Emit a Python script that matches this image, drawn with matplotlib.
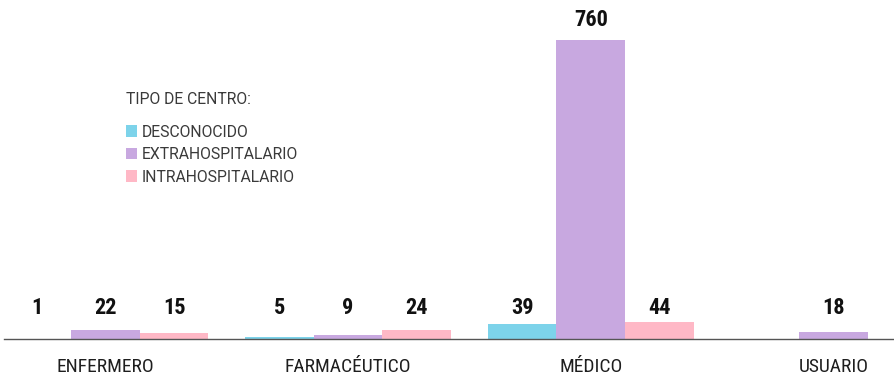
import matplotlib
matplotlib.use("Agg")
import matplotlib.pyplot as plt
from matplotlib.patches import Patch
import numpy as np

categories = ["ENFERMERO", "FARMACÉUTICO", "MÉDICO", "USUARIO"]
series_names = ["DESCONOCIDO", "EXTRAHOSPITALARIO", "INTRAHOSPITALARIO"]
desconocido = [1, 5, 39, None]
extrahospitalario = [22, 9, 760, 18]
intrahospitalario = [15, 24, 44, None]
colors = ["#7DD3EA", "#C8A8E0", "#FFB8C6"]

COND = ["Roboto Condensed", "DejaVu Sans"]

fig = plt.figure(figsize=(8.94, 3.77), dpi=100)
ax = fig.add_axes([0.004, 38 / 377, 0.996, 339 / 377])

x = np.arange(len(categories))
width = 0.283
all_series = [desconocido, extrahospitalario, intrahospitalario]
for k, (vals, color) in enumerate(zip(all_series, colors)):
    offset = (k - 1) * width
    for i, v in enumerate(vals):
        if v is None:
            continue
        ax.bar(x[i] + offset, v, width=width, color=color, linewidth=0)
        # short bars share one label row; tall bars get the label on top
        if v < 100:
            y, dy = 52, 0
        else:
            y, dy = v, 9
        ax.annotate(str(v), (x[i] + offset, y),
                    xytext=(0, dy), textcoords="offset pixels",
                    ha="center", va="bottom", fontsize=16,
                    fontweight="bold", family=COND, color="#111111")

ax.set_xlim(-0.42, 3.25)
ax.set_ylim(0, 862)
ax.set_xticks(x)
ax.set_xticklabels(categories, family=COND, fontsize=14, color="#1e1e1e")
ax.tick_params(axis="x", length=0, pad=14)
ax.set_yticks([])
for side in ["top", "right", "left"]:
    ax.spines[side].set_visible(False)
ax.spines["bottom"].set_color("#555555")
ax.spines["bottom"].set_linewidth(1.0)

handles = [Patch(facecolor=c, edgecolor="none") for c in colors]
leg = ax.legend(handles, series_names, title="TIPO DE CENTRO:",
                loc="upper left", bbox_to_anchor=(0.137, 0.73),
                frameon=False, alignment="left",
                prop={"family": "Roboto", "size": 11.3},
                title_fontproperties={"family": "Roboto", "size": 11.3},
                handlelength=0.75, handleheight=0.75, handletextpad=0.25,
                labelspacing=0.48, borderaxespad=0, borderpad=0)
for t in leg.get_texts():
    t.set_color("#3a3a3a")
leg.get_title().set_color("#3a3a3a")
leg._legend_box.sep = 13

fig.savefig("out.png", dpi=100)
